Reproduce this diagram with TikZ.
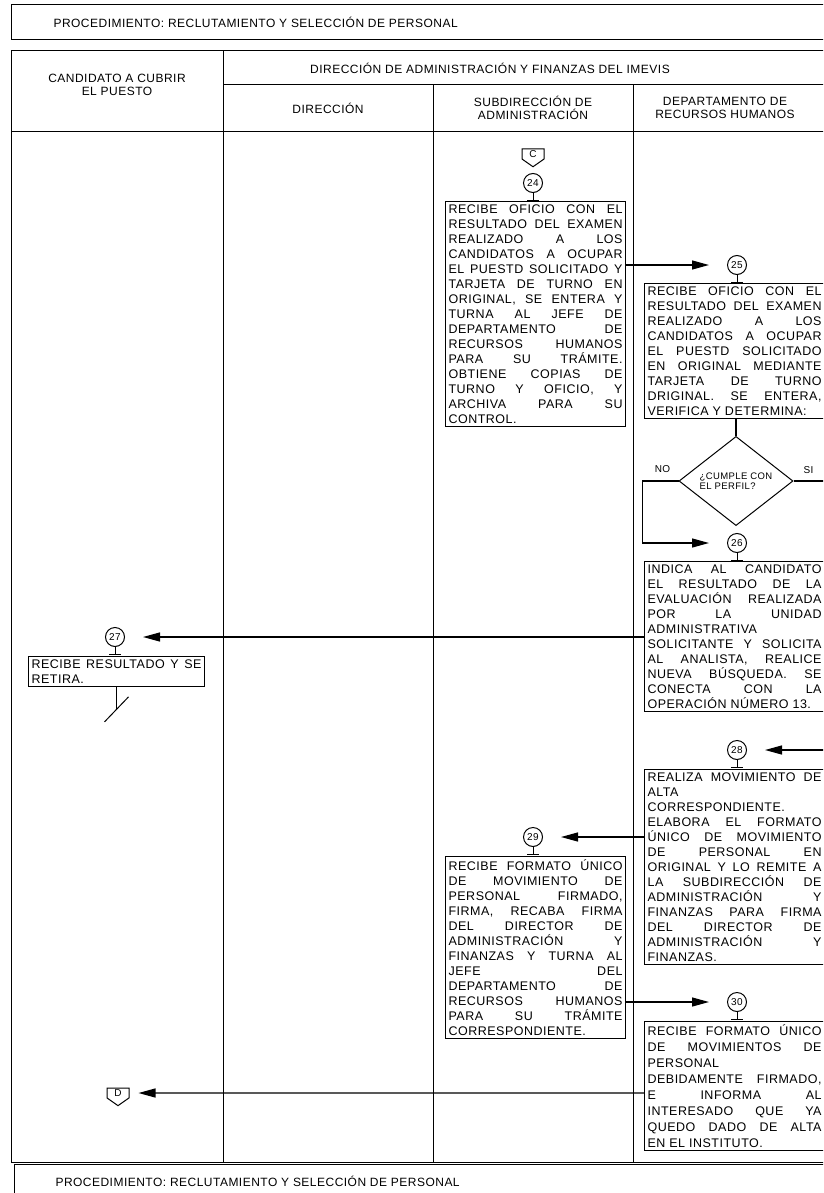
\documentclass[tikz,border=0pt]{standalone}
\usepackage{fontspec}
\setmainfont{Liberation Sans}[LetterSpace=4]
\usetikzlibrary{arrows.meta,positioning,shapes.geometric,shapes.symbols}

\newcommand{\boxfont}{\fontsize{12.5}{15}\selectfont}
\newcommand{\loosefont}{\fontsize{12.5}{16}\selectfont}
\newcommand{\headfont}{\fontsize{12}{13}\selectfont}
\newcommand{\numfont}{\fontsize{10}{12}\selectfont}
\newcommand{\decfont}{\fontsize{9.5}{10}\selectfont}
\newcommand{\jl}[2][174pt]{\makebox[#1][s]{#2}}

\tikzset{
  rule/.style={line width=1pt},
  procbox/.style={draw,line width=1.1pt,align=left,anchor=north west,
                  inner xsep=3pt,inner ysep=3pt,font=\boxfont},
  stepnum/.style={circle,draw,line width=1pt,minimum size=19pt,
                  inner sep=0pt,font=\numfont},
  stemline/.style={line width=1pt},
  offpage/.style={signal,signal to=south,signal pointer angle=110,draw,
                  line width=1pt,minimum width=22pt,inner sep=1.5pt,font=\numfont},
  decnode/.style={diamond,draw,line width=1pt,minimum width=114pt,
                  minimum height=66pt,inner sep=0pt,align=left,font=\decfont},
  headtxt/.style={align=center,font=\headfont},
  titletxt/.style={anchor=west,font=\headfont},
  lbl/.style={font=\numfont},
  arr/.style={-{Triangle[length=17pt,width=9pt]},line width=1.3pt,shorten >=18pt},
  plain/.style={line width=1.3pt}
}

\begin{document}
\begin{tikzpicture}[x=1pt,y=-1pt]
  \useasboundingbox (0,0) rectangle (823,1193);
  \clip (0,0) rectangle (823,1193);

  % title and table frame
  \draw[rule] (11,5) rectangle (840,40);
  \node[titletxt] (title) at (50,22)
      {PROCEDIMIENTO: RECLUTAMIENTO Y SELECCIÓN DE PERSONAL};
  \draw[rule] (11,51) -- (840,51);
  \draw[rule] (223,85) -- (840,85);
  \draw[rule] (11,132) -- (840,132);
  \draw[rule] (11,1162) -- (840,1162);
  \draw[rule] (11,51) -- (11,1162);
  \draw[rule] (223,51) -- (223,1162);
  \foreach \x in {433,633}
    \draw[rule] (\x,85) -- (\x,1162);

  \node[headtxt] (hdaf) at (490,68)
      {DIRECCIÓN DE ADMINISTRACIÓN Y FINANZAS DEL IMEVIS};
  \node[headtxt] (hcand) at (117,85) {CANDIDATO A CUBRIR\\EL PUESTO};
  \node[headtxt] (hdir) at (328,108) {DIRECCIÓN};
  \node[headtxt] (hsub) at (533,108) {SUBDIRECCIÓN DE\\ADMINISTRACIÓN};
  \node[headtxt] (hrh) at (725,108) {DEPARTAMENTO DE\\RECURSOS HUMANOS};

  % footer
  \draw[rule] (14,1200) -- (14,1164) -- (840,1164);
  \node[titletxt] (foot) at (52,1181)
      {PROCEDIMIENTO: RECLUTAMIENTO Y SELECCIÓN DE PERSONAL};

  % steps
  \node[offpage] (conC) at (533,154) {C};

  \node[stepnum] (c24) at (533,183) {24};
  \node[procbox] (box24) at (445,201)
      {\jl{RECIBE OFICIO CON EL}\\
       \jl{RESULTADO DEL EXAMEN}\\
       \jl{REALIZADO A LOS}\\
       \jl{CANDIDATOS A OCUPAR}\\
       \jl{EL PUESTD SOLICITADO Y}\\
       \jl{TARJETA DE TURNO EN}\\
       \jl{ORIGINAL, SE ENTERA Y}\\
       \jl{TURNA AL JEFE DE}\\
       \jl{DEPARTAMENTO DE}\\
       \jl{RECURSOS HUMANOS}\\
       \jl{PARA SU TRÁMITE.}\\
       \jl{OBTIENE COPIAS DE}\\
       \jl{TURNO Y OFICIO, Y}\\
       \jl{ARCHIVA PARA SU}\\
       CONTROL.};

  \node[stepnum] (c25) at (737,265) {25};
  \node[procbox] (box25) at (644,283)
      {\jl{RECIBE OFICIO CON EL}\\
       \jl{RESULTADO DEL EXAMEN}\\
       \jl{REALIZADO A LOS}\\
       \jl{CANDIDATOS A OCUPAR}\\
       \jl{EL PUESTD SOLICITADO}\\
       \jl{EN ORIGINAL MEDIANTE}\\
       \jl{TARJETA DE TURNO}\\
       \jl{DRIGINAL. SE ENTERA,}\\
       VERIFICA Y DETERMINA:};

  \node[decnode] (dec) at (736,481) {¿CUMPLE CON\\EL PERFIL?};
  \node[lbl] (lblno) at ([xshift=-16pt,yshift=12pt]dec.west) {NO};
  \node[lbl] (lblsi) at ([xshift=15pt,yshift=11pt]dec.east) {SI};
  \coordinate (siend) at (830,481);

  \node[stepnum] (c26) at (737,543) {26};
  \node[procbox] (box26) at (644,561)
      {\jl{INDICA AL CANDIDATO}\\
       \jl{EL RESULTADO DE LA}\\
       \jl{EVALUACIÓN REALIZADA}\\
       \jl{POR LA UNIDAD}\\
       ADMINISTRATIVA\\
       \jl{SOLICITANTE Y SOLICITA}\\
       \jl{AL ANALISTA, REALICE}\\
       \jl{NUEVA BÚSQUEDA. SE}\\
       \jl{CONECTA CON LA}\\
       OPERACIÓN NÚMERO 13.};

  \node[stepnum] (c27) at (115,637) {27};
  \node[procbox] (box27) at (28,656)
      {\jl[170pt]{RECIBE RESULTADO Y SE}\\
       RETIRA.};

  \node[stepnum] (c28) at (737,750) {28};
  \coordinate (in28) at (830,750);
  \node[procbox] (box28) at (644,769)
      {\jl{REALIZA MOVIMIENTO DE}\\
       ALTA\\
       CORRESPONDIENTE.\\
       \jl{ELABORA EL FORMATO}\\
       \jl{ÚNICO DE MOVIMIENTO}\\
       \jl{DE PERSONAL EN}\\
       \jl{ORIGINAL Y LO REMITE A}\\
       \jl{LA SUBDIRECCIÓN DE}\\
       \jl{ADMINISTRACIÓN Y}\\
       \jl{FINANZAS PARA FIRMA}\\
       \jl{DEL DIRECTOR DE}\\
       \jl{ADMINISTRACIÓN Y}\\
       FINANZAS.};

  \node[stepnum] (c29) at (533,837) {29};
  \node[procbox] (box29) at (445,856)
      {\jl{RECIBE FORMATO ÚNICO}\\
       \jl{DE MOVIMIENTO DE}\\
       \jl{PERSONAL FIRMADO,}\\
       \jl{FIRMA, RECABA FIRMA}\\
       \jl{DEL DIRECTOR DE}\\
       \jl{ADMINISTRACIÓN Y}\\
       \jl{FINANZAS Y TURNA AL}\\
       \jl{JEFE DEL}\\
       \jl{DEPARTAMENTO DE}\\
       \jl{RECURSOS HUMANOS}\\
       \jl{PARA SU TRÁMITE}\\
       CORRESPONDIENTE.};

  \node[stepnum] (c30) at (737,1002) {30};
  \node[procbox,font=\loosefont] (box30) at (644,1021)
      {\jl{RECIBE FORMATO ÚNICO}\\
       \jl{DE MOVIMIENTOS DE}\\
       PERSONAL\\
       \jl{DEBIDAMENTE FIRMADO,}\\
       \jl{E INFORMA AL}\\
       \jl{INTERESADO QUE YA}\\
       \jl{QUEDO DADO DE ALTA}\\
       EN EL INSTITUTO.};

  \node[offpage] (conD) at (118,1093) {D};

  % stems under the step numbers
  \foreach \n in {24,...,30}
    \draw[stemline] (c\n.south) -- ++(0,7) ++(-6,0) -- ++(12,0);

  % end mark
  \draw[stemline] (box27.south) -- ++(0,22) coordinate (endmark);
  \draw[stemline] (endmark) ++(12,-12) -- ++(-24,25);

  % connectors
  \draw[arr] (c25 -| box24.east) -- (c25);
  \draw[plain] (dec.north |- box25.south) -- (dec.north);
  \draw[arr] (dec.west) -- ++(-36,0) |- (c26);
  \draw[plain] (dec.east) -- (siend);
  \draw[arr] (c27 -| box26.west) -- (c27);
  \draw[arr] (in28) -- (c28);
  \draw[arr] (c29 -| box28.west) -- (c29);
  \draw[arr] (c30 -| box29.east) -- (c30);
  \draw[arr,shorten >=9pt] (conD -| box30.west) -- (conD);

\end{tikzpicture}
\end{document}
